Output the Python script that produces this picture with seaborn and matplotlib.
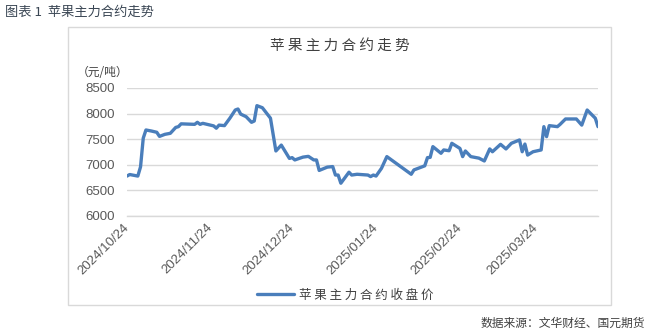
import matplotlib
matplotlib.use("Agg")
import matplotlib.pyplot as plt
import matplotlib.dates as mdates
from matplotlib.patches import Rectangle
import seaborn as sns
import pandas as pd
import numpy as np

# ---- data ----
start_date = "2024-10-24"
day_offsets = [0, 1, 4, 5, 6, 7, 9, 11, 12, 14, 16, 18, 19, 20, 25, 26, 27, 28,
               32, 33, 34, 36, 38, 40, 41, 42, 44, 46, 47, 48, 50, 53, 55, 57,
               60, 61, 62, 65, 67, 69, 70, 71, 74, 76, 77, 78, 79, 82, 83, 85,
               89, 90, 91, 92, 94, 96, 105, 106, 107, 110, 111, 112, 113, 116,
               117, 119, 120, 123, 124, 125, 127, 130, 132, 134, 135, 138, 140,
               142, 145, 146, 147, 148, 150, 153, 154, 155, 156, 159, 160, 162,
               166, 168, 170, 173, 174]
prices = [6780, 6810, 6780, 6960, 7520, 7680, 7660, 7635, 7555, 7595, 7615, 7730,
          7745, 7800, 7790, 7830, 7790, 7810, 7760, 7715, 7775, 7765, 7910, 8070,
          8090, 7990, 7940, 7830, 7855, 8155, 8115, 7910, 7270, 7385, 7125, 7140,
          7095, 7150, 7165, 7095, 7095, 6890, 6955, 6965, 6800, 6800, 6640, 6855,
          6800, 6815, 6800, 6770, 6800, 6780, 6930, 7160, 6815, 6900, 6920, 6980,
          7140, 7145, 7355, 7225, 7290, 7275, 7420, 7320, 7160, 7270, 7160, 7130,
          7075, 7310, 7255, 7400, 7310, 7420, 7485, 7255, 7405, 7190, 7255, 7290,
          7745, 7550, 7765, 7745, 7790, 7895, 7895, 7775, 8070, 7910, 7745]
tick_dates = ["2024-10-24", "2024-11-24", "2024-12-24", "2025-01-24",
              "2025-02-24", "2025-03-24"]
y_ticks = [6000, 6500, 7000, 7500, 8000, 8500]

series_name = "苹果主力合约收盘价"
chart_title = "苹果主力合约走势"
fig_caption = "图表 1  苹果主力合约走势"
source_text = "数据来源：文华财经、国元期货"
unit_text = "（元/吨）"

dates = pd.to_datetime(start_date) + pd.to_timedelta(day_offsets, unit="D")
df = pd.DataFrame({"date": dates, "price": prices})

# ---- style ----
sns.set_theme(style="white")
plt.rcParams["font.family"] = ["Noto Sans CJK SC", "DejaVu Sans"]

W, H = 647, 333
fig = plt.figure(figsize=(W / 100, H / 100), dpi=100)
fig.patch.set_facecolor("white")

def fx(px):
    return px / W

def fy(py):
    return 1 - py / H

# outer chart box
fig.patches.append(Rectangle((fx(68), fy(305)), fx(611) - fx(68), fy(27) - fy(305),
                             transform=fig.transFigure, fill=False,
                             edgecolor="#D9D9D9", linewidth=1.0))

ax = fig.add_axes([fx(127), fy(216), fx(598) - fx(127), fy(88) - fy(216)])
line_color = "#4A7EBB"
sns.lineplot(data=df, x="date", y="price", ax=ax, color=line_color,
             linewidth=2.4, label=series_name, legend=False)

ax.set_ylim(6000, 8500)
ax.set_yticks(y_ticks)
ax.set_xlim(pd.to_datetime(start_date), pd.to_datetime(start_date) + pd.Timedelta(days=174))
ax.set_xticks(pd.to_datetime(tick_dates))
ax.xaxis.set_major_formatter(mdates.DateFormatter("%Y/%m/%d"))
ax.set_xlabel("")
ax.set_ylabel("")

ax.grid(axis="y", color="#D9D9D9", linewidth=1.0)
ax.grid(axis="x", visible=False)
for s in ["top", "right", "left"]:
    ax.spines[s].set_visible(False)
ax.spines["bottom"].set_color("#D9D9D9")
ax.spines["bottom"].set_linewidth(1.0)

ax.tick_params(axis="x", which="major", direction="out", length=4, width=1,
               color="#D9D9D9", pad=3, labelcolor="#595959")
ax.tick_params(axis="y", length=0, pad=9, labelcolor="#595959")
for lab in ax.get_yticklabels():
    lab.set_fontfamily(["Liberation Sans", "DejaVu Sans"])
    lab.set_fontsize(9.5)
for lab in ax.get_xticklabels():
    lab.set_fontfamily(["Liberation Sans", "DejaVu Sans"])
    lab.set_fontsize(9.5)
    lab.set_rotation(45)
    lab.set_ha("right")
    lab.set_va("center")
    lab.set_rotation_mode("anchor")

# texts
fig.text(fx(5), fy(12), fig_caption, ha="left", va="center", fontsize=9.5,
         color="#3A4654", fontweight="medium")
fig.text(fx(340), fy(46), " ".join(chart_title), ha="center", va="center",
         fontsize=10.5, color="#404040")
fig.text(fx(77), fy(73), unit_text, ha="left", va="center", fontsize=8.5,
         color="#404040")
fig.text(fx(645), fy(323), source_text, ha="right", va="center", fontsize=8.5,
         color="#404040")

# legend
handles, labels = ax.get_legend_handles_labels()
leg = fig.legend(handles, [" ".join(series_name)], loc="center",
                 bbox_to_anchor=(fx(345), fy(295)), frameon=False,
                 fontsize=9, handlelength=3.0, handletextpad=0.4,
                 labelcolor="#404040")

fig.savefig("out.png", dpi=100, facecolor="white")
